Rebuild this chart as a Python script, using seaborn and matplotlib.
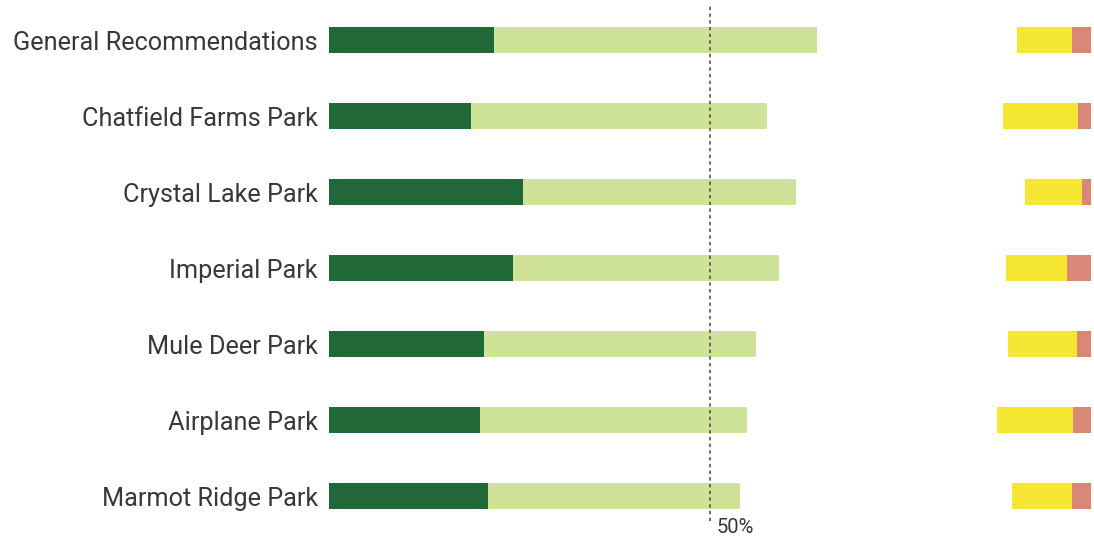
import matplotlib
matplotlib.use("Agg")
import matplotlib.pyplot as plt
import seaborn as sns
import pandas as pd

# Survey response shares (%) per park
parks = [
    "General Recommendations",
    "Chatfield Farms Park",
    "Crystal Lake Park",
    "Imperial Park",
    "Mule Deer Park",
    "Airplane Park",
    "Marmot Ridge Park",
]
strongly_agree = [21.7, 18.7, 25.4, 24.2, 20.4, 19.8, 20.9]
agree = [42.4, 38.8, 35.9, 34.8, 35.6, 35.0, 33.1]
disagree = [7.2, 9.9, 7.4, 7.9, 9.1, 9.9, 7.9]
strongly_disagree = [2.5, 1.7, 1.2, 3.2, 1.8, 2.4, 2.5]

DARK_GREEN = "#22693a"
LIGHT_GREEN = "#cee397"
YELLOW = "#f5e632"
RED = "#d98878"

df = pd.DataFrame({
    "park": parks,
    "strongly_agree": strongly_agree,
    "agree_total": [a + b for a, b in zip(strongly_agree, agree)],
    "strongly_disagree": strongly_disagree,
    "disagree_total": [a + b for a, b in zip(strongly_disagree, disagree)],
})

sns.set_theme(style="white")
plt.rcParams["font.family"] = ["Roboto", "DejaVu Sans"]

fig = plt.figure(figsize=(10.94, 5.36), dpi=100)
ax = fig.add_axes([329 / 1094, 2 / 536, (1091 - 329) / 1094, 532 / 536])

bar_h = 0.34
bar_kw = dict(width=bar_h, saturation=1, orient="h", linewidth=0)

# Agreement grows from the left edge
sns.barplot(data=df, x="agree_total", y="park", color=LIGHT_GREEN, ax=ax, **bar_kw)
sns.barplot(data=df, x="strongly_agree", y="park", color=DARK_GREEN, ax=ax, **bar_kw)

# Disagreement grows from the right edge
ax2 = ax.twiny()
sns.barplot(data=df, x="disagree_total", y="park", color=YELLOW, ax=ax2, **bar_kw)
sns.barplot(data=df, x="strongly_disagree", y="park", color=RED, ax=ax2, **bar_kw)

ax.set_xlim(0, 100)
ax2.set_xlim(100, 0)
ax.set_ylim(6.5, -0.5)

for a in (ax, ax2):
    for s in a.spines.values():
        s.set_visible(False)
    a.set_xlabel("")
    a.set_ylabel("")
    a.set_xticks([])

ax.set_yticks(range(len(parks)), parks)
ax.tick_params(axis="y", length=0, pad=8, labelsize=18.2, labelcolor="#383838",
               left=False, labelleft=True)
ax2.tick_params(axis="y", left=False, labelleft=False, right=False, labelright=False)
ax2.set_zorder(ax.get_zorder() - 1)
ax.patch.set_visible(False)

# 50% reference line
ax.axvline(50, ymin=0.025, ymax=0.994, color="#444444", lw=1.1,
           linestyle=(0, (2.2, 2.2)), zorder=5)
ax.text(50.9, 6.42, "50%", ha="left", va="center", fontsize=14.5,
        color="#383838")

fig.savefig("out.png", dpi=100, facecolor="white")
